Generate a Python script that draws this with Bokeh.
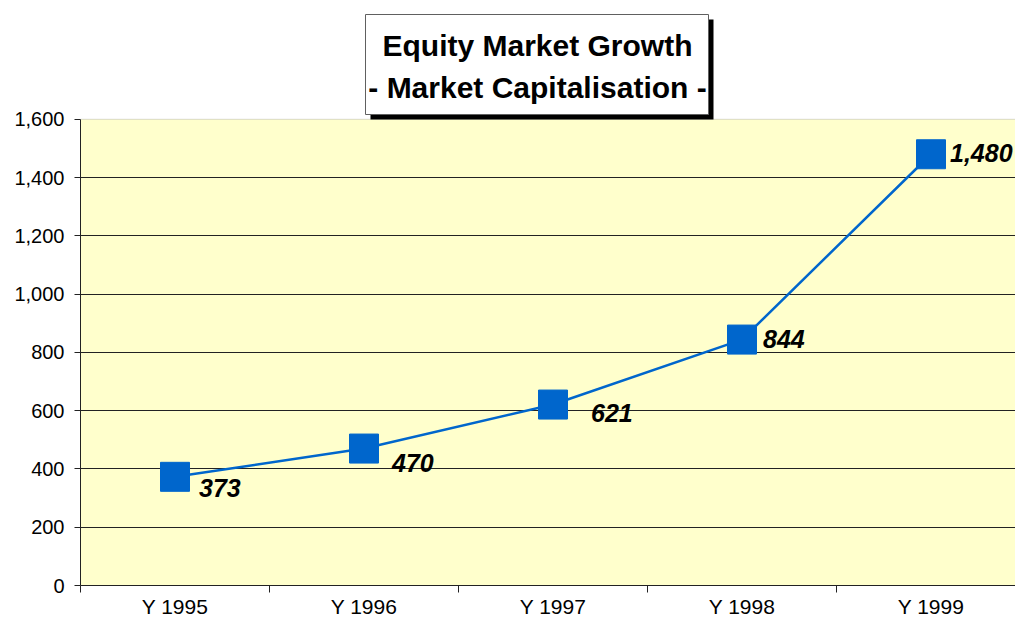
from bokeh.plotting import figure
from bokeh.models import (Range1d, FixedTicker, NumeralTickFormatter, Label,
                          BoxAnnotation, ColumnDataSource)
from bokeh.core.properties import value
from bokeh.embed import file_html
from bokeh.resources import INLINE

# ---- data ----
years = ["Y 1995", "Y 1996", "Y 1997", "Y 1998", "Y 1999"]
market_cap = [373, 470, 621, 844, 1480]
y_ticks = [0, 200, 400, 600, 800, 1000, 1200, 1400, 1600]
title_lines = ["Equity Market Growth", "- Market Capitalisation -"]

xs = list(range(len(years)))
labels = ["{:,}".format(v) for v in market_cap]
# label placement (screen offsets), style only
lab_dx = [24, 28, 38, 21, 19]
lab_dy = [11, 14, 8, -1, -1]

src = ColumnDataSource(dict(x=xs, y=market_cap, t=labels, dx=lab_dx, dy=lab_dy))

# layout constants (pixels)
W, H = 1015, 620
LEFT, BOTTOM = 80, 34
FRAME_H = H - BOTTOM           # frame spans from canvas top
AREA_TOP = 119                 # top of the yellow plot area
CAT_W = 189.0                  # width of one category
ymax = max(y_ticks)
y_end = ymax * FRAME_H / (FRAME_H - AREA_TOP)
x_end = -0.5 + (W - LEFT) / CAT_W

p = figure(width=W, height=H, output_backend="svg", toolbar_location=None,
           x_range=Range1d(-0.5, x_end), y_range=Range1d(0, y_end),
           min_border_left=LEFT, min_border_right=0, min_border_top=0,
           min_border_bottom=BOTTOM)
p.background_fill_color = "white"
p.border_fill_color = "white"
p.outline_line_color = None

# yellow plot area
area = BoxAnnotation(bottom=0, top=ymax, fill_color="#FFFFCC", fill_alpha=1,
                     line_color="#808080", line_width=1, level="image")
p.add_layout(area)

FONT = "Liberation Sans"

# x axis: labels at category centres, ticks at boundaries
xt = FixedTicker(ticks=xs, minor_ticks=[i - 0.5 for i in range(len(years) + 1)])
p.xaxis.ticker = xt
p.xaxis.major_label_overrides = {i: s for i, s in enumerate(years)}
p.xaxis.major_tick_out = 0
p.xaxis.major_tick_in = 0
p.xaxis.minor_tick_out = 7
p.xaxis.minor_tick_in = 0
p.xaxis.minor_tick_line_color = "#222222"
p.xaxis.axis_line_color = "#222222"
p.xaxis.major_label_text_font = FONT
p.xaxis.major_label_text_font_size = "21px"
p.xaxis.major_label_text_color = "black"
p.xaxis.major_label_standoff = 2

# y axis
p.yaxis.ticker = FixedTicker(ticks=y_ticks)
p.yaxis.bounds = (0, ymax)
p.yaxis.formatter = NumeralTickFormatter(format="0,0")
p.yaxis.major_tick_out = 6
p.yaxis.major_tick_in = 0
p.yaxis.minor_tick_line_color = None
p.yaxis.axis_line_color = "#222222"
p.yaxis.major_tick_line_color = "#222222"
p.yaxis.major_label_text_font = FONT
p.yaxis.major_label_text_font_size = "20px"
p.yaxis.major_label_text_color = "black"
p.yaxis.major_label_standoff = 10

p.xgrid.visible = False
p.ygrid.ticker = FixedTicker(ticks=[t for t in y_ticks if 0 < t < ymax])
p.ygrid.grid_line_color = "#222222"
p.ygrid.grid_line_width = 1

# series
p.line("x", "y", source=src, line_color="#0066CC", line_width=2.5)
p.scatter("x", "y", source=src, marker="square", size=29,
          fill_color="#0066CC", line_color="#0066CC")
p.text("x", "y", text="t", source=src, x_offset="dx", y_offset="dy",
       text_font=value(FONT), text_font_size="25px", text_font_style="bold italic",
       text_color="black", text_align="left", text_baseline="middle")

# title box with drop shadow (screen units, relative to frame bottom-left)
def sbox(l, r, b, t, **kw):
    return BoxAnnotation(left=l, right=r, bottom=b, top=t,
                         left_units="screen", right_units="screen",
                         bottom_units="screen", top_units="screen", **kw)

p.add_layout(sbox(290, 633, FRAME_H - 120, FRAME_H - 20,
                  fill_color="black", fill_alpha=1, line_color=None))
p.add_layout(sbox(285, 628, FRAME_H - 115, FRAME_H - 15,
                  fill_color="white", fill_alpha=1, line_color="#606060",
                  line_width=1, line_alpha=1))
for txt, yy in zip(title_lines, [46, 88]):
    p.add_layout(Label(x=457, y=FRAME_H - yy, x_units="screen", y_units="screen",
                       text=txt, text_font=FONT, text_font_size="30px",
                       text_font_style="bold", text_color="black",
                       text_align="center", text_baseline="middle"))

open("out.html", "w").write(file_html(p, INLINE))
